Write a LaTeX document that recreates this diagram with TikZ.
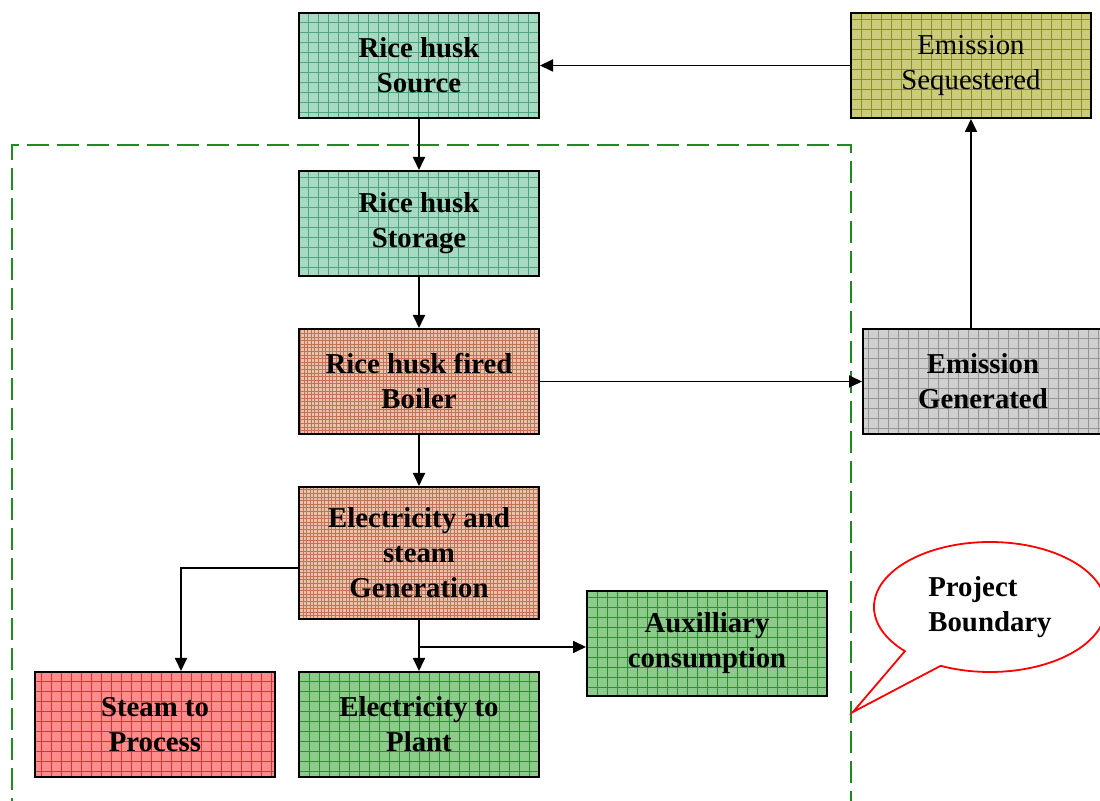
\documentclass[tikz,border=0pt]{standalone}
\usepackage{fontspec}
\setmainfont{Liberation Serif}
\usetikzlibrary{arrows.meta,positioning,shapes.callouts}
\definecolor{TealFill}{HTML}{A6DAC2}
\definecolor{TealGrid}{HTML}{4FA47E}
\definecolor{OliveFill}{HTML}{CBCB7E}
\definecolor{OliveGrid}{HTML}{8E8E22}
\definecolor{BrickFill}{HTML}{E8C2AE}
\definecolor{BrickGrid}{HTML}{C47256}
\definecolor{GrayFill}{HTML}{CFCFCF}
\definecolor{GrayGrid}{HTML}{959595}
\definecolor{RedFill}{HTML}{FF8C8C}
\definecolor{RedGrid}{HTML}{F02A2A}
\definecolor{LeafFill}{HTML}{8CCB8C}
\definecolor{LeafGrid}{HTML}{2F8F2F}
\definecolor{Boundary}{HTML}{1E8C1E}
\newcommand\boxfont{\fontsize{14.4}{17.5}\selectfont\bfseries}
\newcommand\plainfont{\fontsize{14.4}{17.5}\selectfont}
\tikzset{
  box/.style n args={3}{
    draw=black, line width=1pt, fill=#1, font=\boxfont,
    minimum width=120pt, minimum height=52.5pt, align=center,
    path picture={\draw[#2, line width=0.45pt]
      (path picture bounding box.south west) grid[step=#3]
      (path picture bounding box.north east);}
  },
  flow/.style={-{Triangle[length=6.5pt,width=6pt]}, line width=0.9pt, draw=black},
  boundary/.style={draw=Boundary, line width=1.4pt, dash pattern=on 11pt off 4pt}
}
\begin{document}
\begin{tikzpicture}[x=0.5pt,y=-0.5pt,node distance=25.5pt]
  \useasboundingbox (0,0) rectangle (1100,801);
  % project boundary
  \draw[boundary] (12,820) -- (12,145) -- (851,145) -- (851,820);
  % main column
  \node[box={TealFill}{TealGrid}{5pt}] (src) at (419,65.5) {Rice husk\\Source};
  \node[box={TealFill}{TealGrid}{5pt},below=of src] (sto) {Rice husk\\Storage};
  \node[box={BrickFill}{BrickGrid}{1.8pt},below=of sto] (boil) {Rice husk fired\\Boiler};
  \node[box={BrickFill}{BrickGrid}{1.8pt},below=of boil,minimum height=66pt] (gen)
    {Electricity and\\steam\\Generation};
  \node[box={LeafFill}{LeafGrid}{5pt},below=of gen] (plant) {Electricity to\\Plant};
  \node[box={RedFill}{RedGrid}{5pt},left=11pt of plant] (steam) {Steam to\\Process};
  \node[box={LeafFill}{LeafGrid}{5pt}] (aux) at (707,643.5) {Auxilliary\\consumption};
  % emissions
  \node[box={OliveFill}{OliveGrid}{5pt},right=155pt of src,font=\plainfont] (seq)
    {Emission\\Sequestered};
  \node[box={GrayFill}{GrayGrid}{5pt},right=161pt of boil] (emgen) {Emission\\Generated};
  % callout
  \node[ellipse callout,draw=red,line width=0.9pt,fill=white,
    minimum width=116pt,minimum height=65pt,align=left,font=\boxfont,
    callout absolute pointer={(853,712)},callout pointer arc=22] (pb) at (990,607)
    {Project\\Boundary};
  % flows
  \coordinate (bend) at (181,568);
  \coordinate (split) at (419,647);
  \draw[flow] (seq) -- (src);
  \draw[flow] (src) -- (sto);
  \draw[flow] (sto) -- (boil);
  \draw[flow] (boil) -- (gen);
  \draw[flow] (boil) -- (emgen);
  \draw[flow] (emgen.north -| seq.south) -- (seq.south);
  \draw[flow] (gen.west |- bend) -- (bend) -- (bend |- steam.north);
  \draw[flow] (gen) -- (plant);
  \draw[flow] (split) -- (split -| aux.west);
\end{tikzpicture}
\end{document}
